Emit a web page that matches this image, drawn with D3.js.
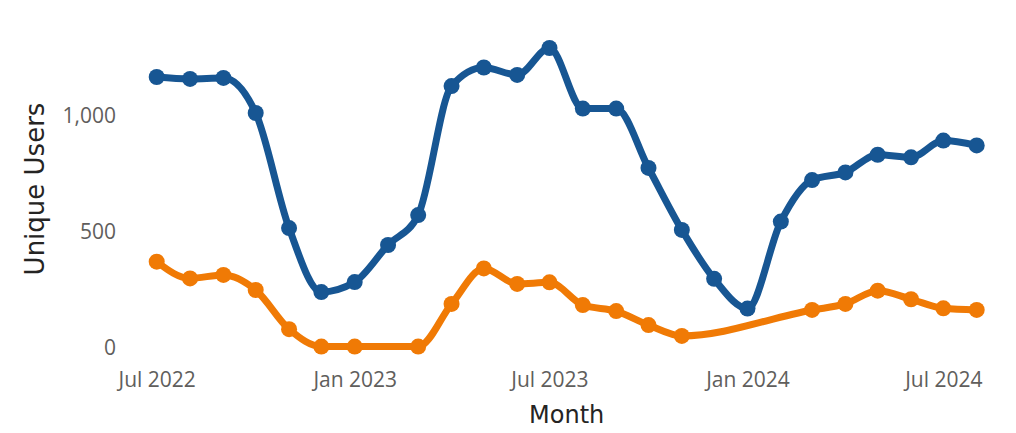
<!DOCTYPE html>
<html>
<head>
<meta charset="utf-8">
<script src="https://cdn.jsdelivr.net/npm/d3@7"></script>
<style>
  html, body { margin: 0; padding: 0; background: #fff; }
  svg { display: block; }
</style>
</head>
<body>
<svg id="chart" width="1016" height="433"></svg>
<script>
const months = ["2022-07","2022-08","2022-09","2022-10","2022-11","2022-12",
  "2023-01","2023-02","2023-03","2023-04","2023-05","2023-06",
  "2023-07","2023-08","2023-09","2023-10","2023-11","2023-12",
  "2024-01","2024-02","2024-03","2024-04","2024-05","2024-06",
  "2024-07","2024-08"];
const seriesBlue = [1168,1160,1164,1013,517,241,284,444,573,1129,1209,1177,
  1293,1032,1032,776,509,298,170,545,724,757,833,822,894,873];
const seriesOrange = [372,300,315,250,81,6,6,null,6,190,343,276,
  283,185,159,99,52,null,null,null,164,190,247,210,171,164];
const yTicks = [0, 500, 1000];
const xTickLabels = ["2022-07","2023-01","2023-07","2024-01","2024-07"];
const colors = ["#175693", "#F07A05"];

const parse = d3.timeParse("%Y-%m");
const svg = d3.select("#chart");

const x = d3.scaleTime()
  .domain([parse("2022-07"), parse("2024-08")])
  .range([156.7, 976.7]);
const y = d3.scaleLinear()
  .domain([0, 1400])
  .range([348, 348 - 0.232 * 1400]);

const tickFont = "'Segoe UI', 'Open Sans', sans-serif";
const titleFont = "'DIN', 'DejaVu Sans', sans-serif";

// y axis
const yAxis = svg.append("g")
  .attr("transform", "translate(116,0)")
  .call(d3.axisLeft(y).tickValues(yTicks).tickSize(0).tickPadding(0)
    .tickFormat(d3.format(",")));
yAxis.select(".domain").remove();
yAxis.selectAll("text")
  .attr("fill", "#605E5C")
  .style("font-family", tickFont)
  .style("font-size", "21px");

// x axis
const xAxis = svg.append("g")
  .attr("transform", "translate(0,372)")
  .call(d3.axisBottom(x).tickValues(xTickLabels.map(parse)).tickSize(0).tickPadding(0)
    .tickFormat(d3.timeFormat("%b %Y")));
xAxis.select(".domain").remove();
xAxis.selectAll("text")
  .attr("fill", "#605E5C")
  .style("font-family", tickFont)
  .style("font-size", "21px");

// axis titles
svg.append("text")
  .attr("x", 566.7).attr("y", 423.3)
  .attr("text-anchor", "middle")
  .attr("fill", "#252423")
  .style("font-family", titleFont)
  .style("font-size", "24px")
  .text("Month");
svg.append("text")
  .attr("transform", "translate(43.5,189) rotate(-90)")
  .attr("text-anchor", "middle")
  .attr("fill", "#252423")
  .style("font-family", titleFont)
  .style("font-size", "26px")
  .text("Unique Users");

const line = d3.line()
  .x(d => x(d.date))
  .y(d => y(d.value))
  .curve(d3.curveMonotoneX);

[seriesBlue, seriesOrange].forEach((vals, i) => {
  const data = months.map((m, j) => ({date: parse(m), value: vals[j]}))
    .filter(d => d.value !== null);
  const g = svg.append("g");
  g.append("path")
    .datum(data)
    .attr("fill", "none")
    .attr("stroke", colors[i])
    .attr("stroke-width", 7)
    .attr("stroke-linejoin", "round")
    .attr("stroke-linecap", "round")
    .attr("d", line);
  g.selectAll("circle")
    .data(data)
    .join("circle")
    .attr("cx", d => x(d.date))
    .attr("cy", d => y(d.value))
    .attr("r", 8)
    .attr("fill", colors[i]);
});
</script>
</body>
</html>
